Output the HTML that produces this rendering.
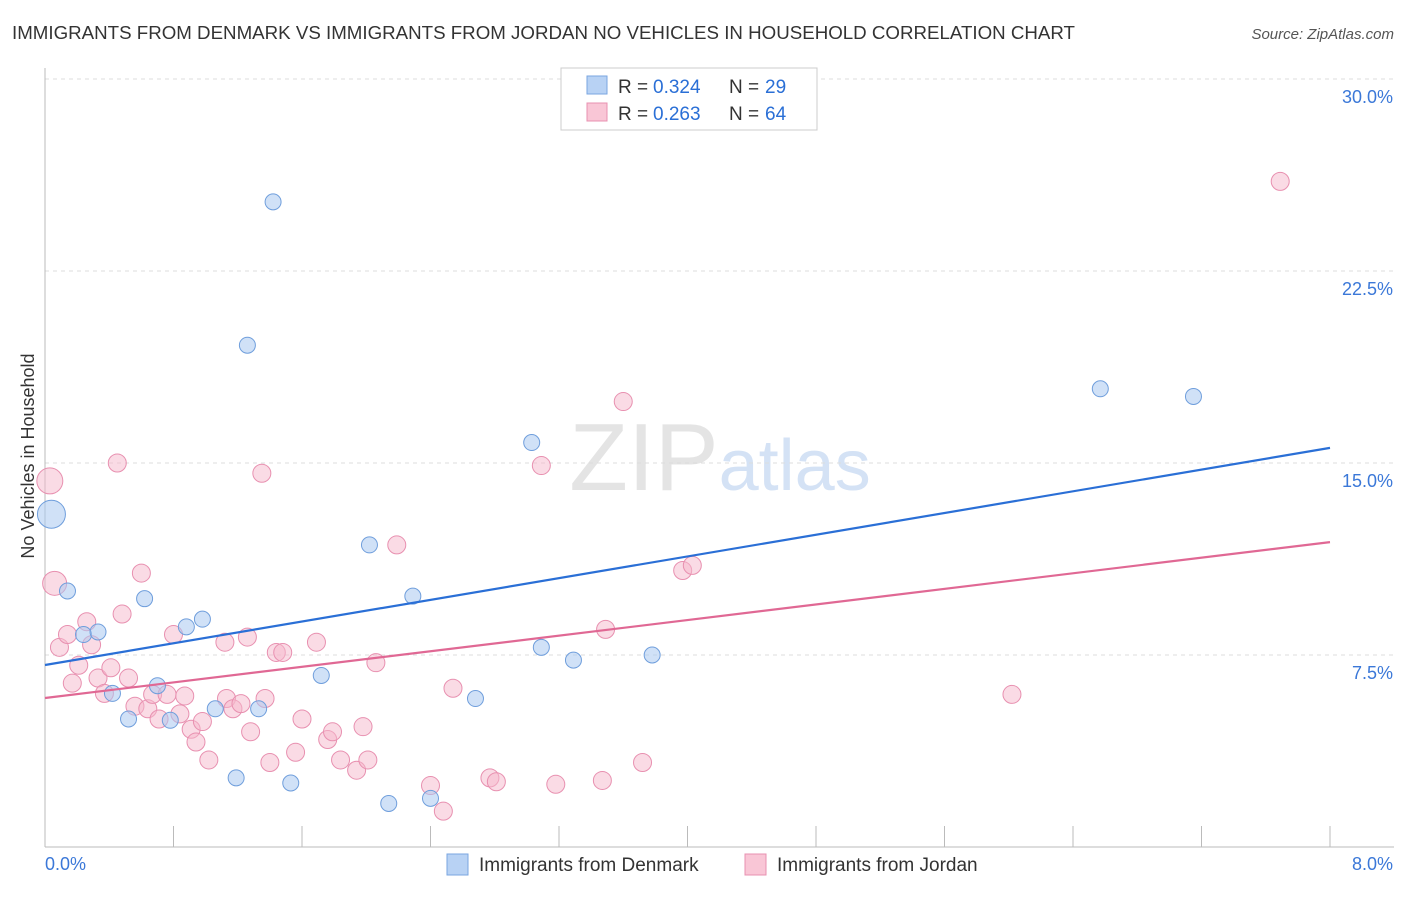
<!DOCTYPE html>
<html><head><meta charset="utf-8"><style>
body{margin:0;background:#fff;font-family:"Liberation Sans",sans-serif;}
svg text{font-family:"Liberation Sans",sans-serif;}
</style></head><body>
<svg width="1406" height="892" viewBox="0 0 1406 892" xmlns="http://www.w3.org/2000/svg" id="chart">
<text x="12" y="39" font-size="18" fill="#333" textLength="1063" lengthAdjust="spacingAndGlyphs">IMMIGRANTS FROM DENMARK VS IMMIGRANTS FROM JORDAN NO VEHICLES IN HOUSEHOLD CORRELATION CHART</text>
<text x="1394" y="39" font-size="15" fill="#555" text-anchor="end" font-style="italic">Source: ZipAtlas.com</text>
<text x="720" y="490" font-size="96" text-anchor="middle" fill="#e4e4e4" font-family="Liberation Serif"><tspan>ZIP</tspan><tspan fill="#d4e2f5" font-family="Liberation Sans" font-size="72">atlas</tspan></text>
<text transform="translate(34,456) rotate(-90)" font-size="18" fill="#333" text-anchor="middle">No Vehicles in Household</text>
<g id="grid"></g><g id="axes"></g><g id="points"></g><g id="lines"></g>
<g>
<rect x="561" y="68" width="256" height="62" fill="#fff" stroke="#ccc"/>
<rect x="587" y="76" width="20" height="18" fill="#b8d2f4" stroke="#7aa6e0"/>
<rect x="587" y="103" width="20" height="18" fill="#f9c6d6" stroke="#e890b0"/>
<text x="618" y="93" font-size="19" fill="#333">R =</text>
<text x="653" y="93" font-size="19" fill="#2a6fd6">0.324</text>
<text x="729" y="93" font-size="19" fill="#333">N =</text>
<text x="765" y="93" font-size="19" fill="#2a6fd6">29</text>
<text x="618" y="120" font-size="19" fill="#333">R =</text>
<text x="653" y="120" font-size="19" fill="#2a6fd6">0.263</text>
<text x="729" y="120" font-size="19" fill="#333">N =</text>
<text x="765" y="120" font-size="19" fill="#2a6fd6">64</text>
</g>
<g>
<rect x="447" y="854" width="21" height="21" fill="#b8d2f4" stroke="#7aa6e0"/>
<text x="479" y="871" font-size="19" fill="#333">Immigrants from Denmark</text>
<rect x="745" y="854" width="21" height="21" fill="#f9c6d6" stroke="#e890b0"/>
<text x="777" y="871" font-size="19" fill="#333">Immigrants from Jordan</text>
</g>
</svg>
<script>
const yTicks=[7.5,15.0,22.5,30.0];
const yTickLabels=["7.5%","15.0%","22.5%","30.0%"];
const xTickLabels=["0.0%","8.0%"];
const denmarkX=[0.04,0.14,0.24,0.33,0.42,0.52,0.62,0.70,0.78,0.88,0.98,1.06,1.19,1.26,1.33,1.42,1.53,1.72,2.02,2.14,2.29,2.40,2.68,3.03,3.09,3.29,3.78,6.57,7.15];
const denmarkY=[13.0,10.0,8.3,8.4,6.0,5.0,9.7,6.3,4.95,8.6,8.9,5.4,2.7,19.6,5.4,25.2,2.5,6.7,11.8,1.7,9.8,1.9,5.8,15.8,7.8,7.3,7.5,17.9,17.6];
const denmarkR=[14,8,8,8,8,8,8,8,8,8,8,8,8,8,8,8,8,8,8,8,8,8,8,8,8,8,8,8,8];
const jordanX=[0.03,0.06,0.09,0.14,0.17,0.21,0.26,0.29,0.33,0.37,0.41,0.45,0.48,0.52,0.56,0.60,0.64,0.67,0.71,0.76,0.80,0.84,0.87,0.91,0.94,0.98,1.02,1.12,1.13,1.17,1.22,1.26,1.28,1.35,1.37,1.40,1.44,1.48,1.56,1.60,1.69,1.76,1.79,1.84,1.94,1.98,2.01,2.06,2.19,2.40,2.48,2.54,2.77,2.81,3.09,3.18,3.47,3.49,3.60,3.72,3.97,4.03,6.02,7.69];
const jordanY=[14.3,10.3,7.8,8.3,6.4,7.1,8.8,7.9,6.6,6.0,7.0,15.0,9.1,6.6,5.5,10.7,5.4,5.96,5.0,5.96,8.3,5.2,5.9,4.6,4.1,4.9,3.4,8.0,5.8,5.4,5.6,8.2,4.5,14.6,5.8,3.3,7.6,7.6,3.7,5.0,8.0,4.2,4.5,3.4,3.0,4.7,3.4,7.2,11.8,2.4,1.4,6.2,2.7,2.55,14.9,2.45,2.6,8.5,17.4,3.3,10.8,11.0,5.96,26.0];
const jordanR=[13,12,9,9,9,9,9,9,9,9,9,9,9,9,9,9,9,9,9,9,9,9,9,9,9,9,9,9,9,9,9,9,9,9,9,9,9,9,9,9,9,9,9,9,9,9,9,9,9,9,9,9,9,9,9,9,9,9,9,9,9,9,9,9];
const denmarkLine=[7.11,15.59];
const jordanLine=[5.82,11.91];
const NS="http://www.w3.org/2000/svg";
const X0=45,X1=1330,Y0=847,PXY=25.6;
function xs(v){return X0+(v/8)*(X1-X0);}
function ys(v){return Y0-v*PXY;}
function mk(tag,attrs,parent){const e=document.createElementNS(NS,tag);for(const k in attrs)e.setAttribute(k,attrs[k]);document.getElementById(parent).appendChild(e);return e;}
yTicks.forEach((t,i)=>{
 const g=mk('line',{x1:X0,x2:1394,y1:ys(t),y2:ys(t),stroke:'#ddd','stroke-dasharray':'4,4'},'grid');
 
 
 const tx=mk('text',{x:1393,y:ys(t)+24,'font-size':18,fill:'#3b78d8','text-anchor':'end'},'axes');
 tx.textContent=yTickLabels[i];
 
 
});
const ax=mk('line',{x1:X0,x2:X0,y1:68,y2:Y0,stroke:'#bbb'},'axes');


const bx=mk('line',{x1:X0,x2:1394,y1:Y0,y2:Y0,stroke:'#bbb'},'axes');


for(let i=0;i<=10;i++){
 const t=mk('line',{x1:xs(i*0.8),x2:xs(i*0.8),y1:826,y2:Y0,stroke:'#bbb'},'axes');
 
 
}
const xl0=mk('text',{x:45,y:870,'font-size':18,fill:'#3b78d8'},'axes');xl0.textContent=xTickLabels[0];


const xl1=mk('text',{x:1393,y:870,'font-size':18,fill:'#3b78d8','text-anchor':'end'},'axes');xl1.textContent=xTickLabels[1];


jordanX.forEach((v,i)=>{
 const c=mk('circle',{cx:xs(v),cy:ys(jordanY[i]),r:jordanR[i],fill:'#f6b8cc','fill-opacity':0.5,stroke:'#e890b0','stroke-width':1},'points');
 
 
});
denmarkX.forEach((v,i)=>{
 const c=mk('circle',{cx:xs(v),cy:ys(denmarkY[i]),r:denmarkR[i],fill:'#aac8f0','fill-opacity':0.55,stroke:'#6f9edc','stroke-width':1},'points');
 
 
});
const l1=mk('line',{x1:xs(0),y1:ys(denmarkLine[0]),x2:xs(8),y2:ys(denmarkLine[1]),stroke:'#2a6fd6','stroke-width':2.2},'lines');


const l2=mk('line',{x1:xs(0),y1:ys(jordanLine[0]),x2:xs(8),y2:ys(jordanLine[1]),stroke:'#e06894','stroke-width':2.2},'lines');


</script>
</body></html>
